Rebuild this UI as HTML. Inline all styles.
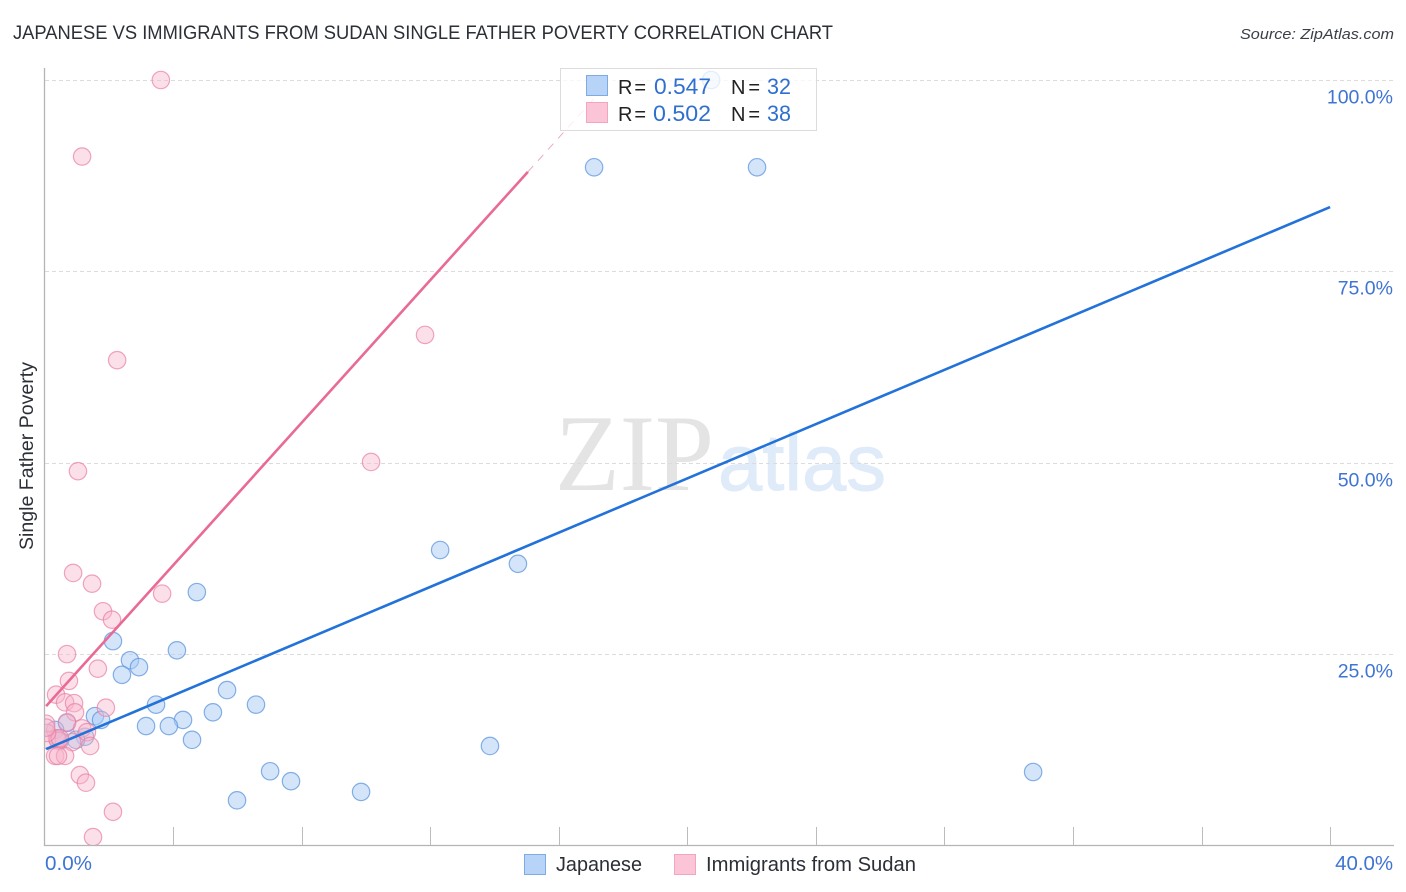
<!DOCTYPE html>
<html lang="en">
<head>
<meta charset="utf-8">
<title>Japanese vs Immigrants from Sudan Single Father Poverty Correlation Chart</title>
<style>
html,body{margin:0;padding:0;background:#fff;width:1406px;height:892px;overflow:hidden}
svg{display:block}
text{font-family:"Liberation Sans",sans-serif}
</style>
</head>
<body>
<svg id="chart" width="1406" height="892" viewBox="0 0 1406 892">
  <defs>
    <clipPath id="plot-clip"><rect x="45" y="60" width="1350" height="785"/></clipPath>
  </defs>
  <text x="13" y="39" font-size="19" fill="#2b2f36" textLength="820" lengthAdjust="spacingAndGlyphs">JAPANESE VS IMMIGRANTS FROM SUDAN SINGLE FATHER POVERTY CORRELATION CHART</text>
  <text x="1394" y="39" font-size="15" font-style="italic" fill="#3a3f47" text-anchor="end" textLength="154" lengthAdjust="spacingAndGlyphs">Source: ZipAtlas.com</text>
  <text x="555" y="490" font-size="109" fill="#e4e4e4" style="font-family:'Liberation Serif',serif" textLength="159" lengthAdjust="spacingAndGlyphs">ZIP</text>
  <text x="718" y="490" font-size="80" fill="#e0ebfa" stroke="#e0ebfa" stroke-width="1" textLength="168" lengthAdjust="spacingAndGlyphs">atlas</text>
  <g id="grid"></g>
  <g id="axes"></g>
  <g id="points-japanese" clip-path="url(#plot-clip)"></g>
  <g id="points-sudan" clip-path="url(#plot-clip)"></g>
  <g id="trends"></g>
  <text transform="translate(33 456) rotate(-90)" font-size="19" fill="#2b2f36" text-anchor="middle" textLength="188" lengthAdjust="spacingAndGlyphs">Single Father Poverty</text>

  <g>
    <rect x="560.5" y="68.5" width="256" height="62" fill="#fff" fill-opacity="0.78" stroke="#dcdcdc"/>
    <rect x="586.5" y="75.5" width="21" height="20" fill="#b7d3f7" stroke="#7fabe3"/>
    <rect x="586.5" y="102.5" width="21" height="20" fill="#fcc5d7" stroke="#f2a5bf"/>
    <text x="618" y="94" font-size="20" fill="#222" textLength="28" lengthAdjust="spacing">R =</text>
    <text x="654" y="94" font-size="22" fill="#2f6fd0" textLength="57" lengthAdjust="spacingAndGlyphs">0.547</text>
    <text x="731" y="94" font-size="20" fill="#222" textLength="29" lengthAdjust="spacing">N =</text>
    <text x="767" y="94" font-size="22" fill="#2f6fd0" textLength="24" lengthAdjust="spacingAndGlyphs">32</text>
    <text x="618" y="121" font-size="20" fill="#222" textLength="28" lengthAdjust="spacing">R =</text>
    <text x="653" y="121" font-size="22" fill="#2f6fd0" textLength="58" lengthAdjust="spacingAndGlyphs">0.502</text>
    <text x="731" y="121" font-size="20" fill="#222" textLength="29" lengthAdjust="spacing">N =</text>
    <text x="767" y="121" font-size="22" fill="#2f6fd0" textLength="24" lengthAdjust="spacingAndGlyphs">38</text>
  </g>

  <g>
    <rect x="524.5" y="854.5" width="21" height="20" fill="#b7d3f7" stroke="#7fabe3"/>
    <text x="556" y="871" font-size="20" fill="#2b2f36" textLength="86" lengthAdjust="spacingAndGlyphs">Japanese</text>
    <rect x="674.5" y="854.5" width="21" height="20" fill="#fcc5d7" stroke="#f2a5bf"/>
    <text x="706" y="871" font-size="20" fill="#2b2f36" textLength="210" lengthAdjust="spacingAndGlyphs">Immigrants from Sudan</text>
  </g>
</svg>
<script>
const yTickValues = [25, 50, 75, 100];
const yTickLabels = ['25.0%', '50.0%', '75.0%', '100.0%'];
const xTickValues = [0, 4, 8, 12, 16, 20, 24, 28, 32, 36, 40];
const xEndValues = [0, 40];
const xEndLabels = ['0.0%', '40.0%'];

const japaneseX = [20.74, 17.10, 22.17, 12.31, 14.73, 4.74, 2.13, 2.66, 2.94, 2.41, 4.12, 5.68, 3.47, 6.58, 1.57, 1.76, 5.24, 4.31, 3.16, 3.87, 4.59, 13.86, 7.02, 7.67, 9.85, 5.99, 30.76, 1.26, 0.98, 0.70, 0.33, 0.48];
const japaneseY = [100, 88.6, 88.6, 38.6, 36.8, 33.1, 26.7, 24.2, 23.3, 22.3, 25.5, 20.3, 18.4, 18.4, 16.9, 16.4, 17.4, 16.4, 15.6, 15.6, 13.8, 13.0, 9.7, 8.4, 7.0, 5.9, 9.6, 14.2, 13.8, 16.0, 15.1, 13.7];

const sudanX = [3.62, 1.17, 2.26, 11.84, 10.16, 1.04, 0.89, 1.48, 3.66, 1.82, 2.10, 0.70, 1.66, 0.76, 0.36, 0.64, 0.92, 0.95, 1.91, 0.70, 0.05, 0.39, 1.17, 1.32, 0.86, 1.42, 0.08, 0.42, 0.48, 0.33, 0.64, 1.10, 1.29, 2.13, 1.51, 0.08, 0.42, 0.05];
const sudanY = [100, 90, 63.4, 66.7, 50.1, 48.9, 35.6, 34.2, 32.9, 30.6, 29.5, 25.0, 23.1, 21.5, 19.7, 18.7, 18.6, 17.4, 18.0, 16.1, 15.9, 14.0, 15.3, 14.8, 13.5, 13.0, 13.8, 13.7, 14.0, 11.7, 11.7, 9.2, 8.2, 4.4, 1.1, 14.7, 11.7, 15.4];

const japaneseTrendX = [0.05, 40];
const japaneseTrendY = [12.6, 83.4];
const sudanTrendX = [0.05, 15.04];
const sudanTrendY = [18.2, 88.0];
const sudanTrendDashedX = [15.04, 17.3];
const sudanTrendDashedY = [88.0, 98.5];

const SVG_NS = 'http://www.w3.org/2000/svg';
const xScale = function (v) { return 44.5 + v * 32.14; };
const yScale = function (v) { return 845.5 - v * 7.655; };

function make(parentId, tag, attrs) {
  const el = document.createElementNS(SVG_NS, tag);
  Object.keys(attrs).forEach(function (k) { el.setAttribute(k, attrs[k]); });
  document.getElementById(parentId).appendChild(el);
  return el;
}

yTickValues.forEach(function (v, i) {
  const y = Math.round(yScale(v)) + 0.5;
  const line = make('grid', 'line', { x1: 45, x2: 1393, y1: y, y2: y, stroke: '#dcdcdc', 'stroke-width': 1, 'stroke-dasharray': '4 3' });
  
  
  const label = make('axes', 'text', { x: 1393, y: y + 23, 'font-size': 19.5, fill: '#3f74d3', 'text-anchor': 'end' });
  label.textContent = yTickLabels[i];
  
  
});

const yAxis = make('axes', 'line', { x1: 44.5, x2: 44.5, y1: 68, y2: 846, stroke: '#b4b4b4', 'stroke-width': 1.3 });


const xAxis = make('axes', 'line', { x1: 44, x2: 1394, y1: 845.5, y2: 845.5, stroke: '#b4b4b4', 'stroke-width': 1.3 });



xTickValues.forEach(function (v) {
  if (v === 0) return;
  const x = Math.round(xScale(v)) + 0.5;
  const tick = make('axes', 'line', { x1: x, x2: x, y1: 827, y2: 845, stroke: '#bcbcbc', 'stroke-width': 1 });
  
  
});

xEndValues.forEach(function (v, i) {
  const label = make('axes', 'text', { x: i === 0 ? xScale(v) + 0.5 : xScale(v) + 5, y: 870, 'font-size': 20, fill: '#3f74d3', textLength: i === 0 ? 47 : 58, lengthAdjust: 'spacingAndGlyphs' });
  label.textContent = xEndLabels[i];
  
  
});

japaneseX.forEach(function (v, i) {
  const c = make('points-japanese', 'circle', { cx: xScale(v), cy: yScale(japaneseY[i]), r: 8.7, fill: '#a9cbf5', 'fill-opacity': 0.5, stroke: '#5d95de', 'stroke-opacity': 0.75, 'stroke-width': 1.2 });
  
  
});

sudanX.forEach(function (v, i) {
  const c = make('points-sudan', 'circle', { cx: xScale(v), cy: yScale(sudanY[i]), r: 8.7, fill: '#f9b4cb', 'fill-opacity': 0.42, stroke: '#ea7fa3', 'stroke-opacity': 0.7, 'stroke-width': 1.2 });
  
  
});

const sudanTrend = make('trends', 'line', { x1: xScale(sudanTrendX[0]), y1: yScale(sudanTrendY[0]), x2: xScale(sudanTrendX[1]), y2: yScale(sudanTrendY[1]), stroke: '#e96a94', 'stroke-width': 2.6 });


const sudanDash = make('trends', 'line', { x1: xScale(sudanTrendDashedX[0]), y1: yScale(sudanTrendDashedY[0]), x2: xScale(sudanTrendDashedX[1]), y2: yScale(sudanTrendDashedY[1]), stroke: '#ecaac0', 'stroke-width': 1, 'stroke-dasharray': '8 7' });


const japaneseTrend = make('trends', 'line', { x1: xScale(japaneseTrendX[0]), y1: yScale(japaneseTrendY[0]), x2: xScale(japaneseTrendX[1]), y2: yScale(japaneseTrendY[1]), stroke: '#2272d9', 'stroke-width': 2.6 });


</script>
</body>
</html>
